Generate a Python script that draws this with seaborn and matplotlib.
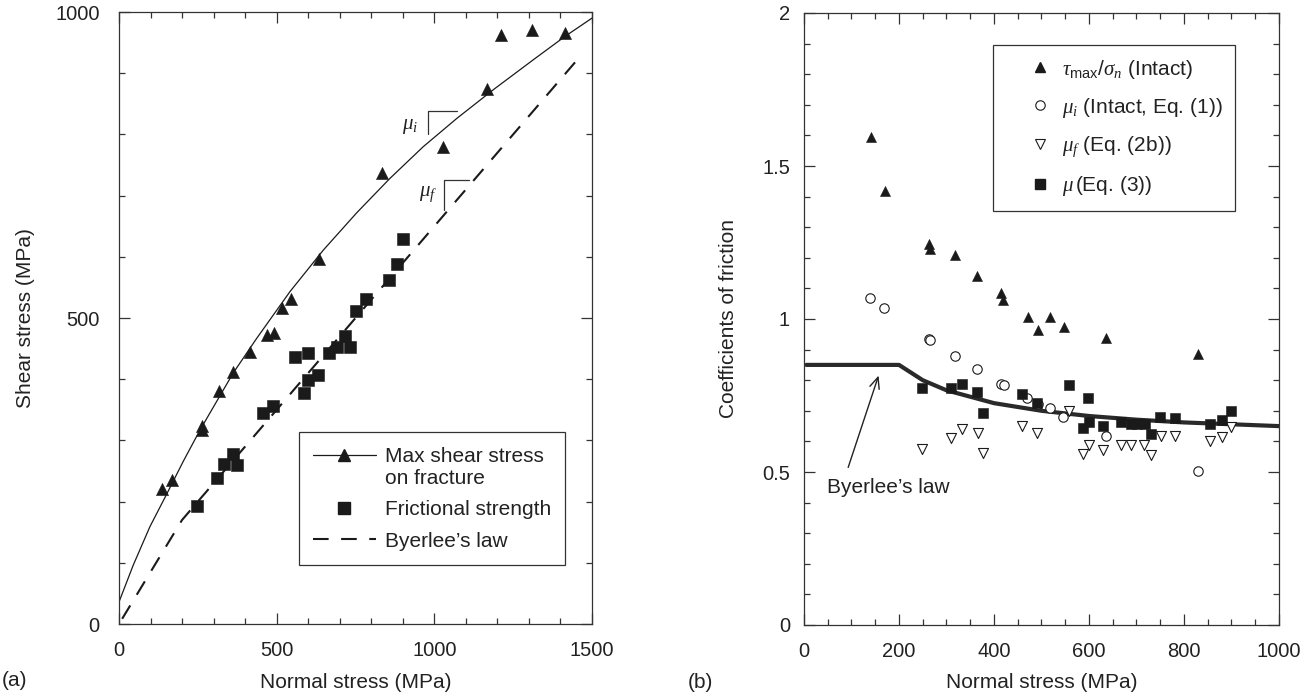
import numpy as np
import pandas as pd
import matplotlib
matplotlib.use("Agg")
import matplotlib.pyplot as plt
import seaborn as sns
from matplotlib.ticker import MultipleLocator, FuncFormatter
from matplotlib.legend_handler import HandlerLine2D
from matplotlib.lines import Line2D

# ---------------- data (a): stresses, MPa ----------------
tau_sn = [135, 169, 262, 264, 317, 363, 415, 470, 492, 516, 545, 634, 833, 1026, 1166, 1210, 1311, 1414]
tau_max = [220, 236, 317, 324, 380, 412, 445, 472, 475, 517, 531, 596, 737, 779, 875, 962, 971, 965]

fit_sn = [0, 45, 98, 151, 204, 257, 362, 437, 542, 648, 754, 859, 965, 1071, 1187, 1314, 1414, 1500]
fit_tau = [36, 96, 159, 212, 266, 317, 410, 467, 543, 611, 672, 728, 780, 826, 873, 922, 960, 990]

fric_sn = [248, 310, 334, 363, 375, 458, 489, 558, 588, 598, 600, 632, 667, 692, 717, 732, 752, 783, 857, 883, 900]
fric_tau = [193, 238, 262, 278, 260, 345, 356, 436, 378, 443, 399, 407, 442, 453, 471, 453, 511, 531, 562, 588, 629]

byer_sn = [10, 200, 1460]
byer_tau = [8.5, 170, 926]

# slope brackets (annotation)
brk_i_x = [981, 981, 1073]
brk_i_y = [801, 838, 838]
brk_f_x = [1031, 1031, 1111]
brk_f_y = [676, 725, 725]

# ---------------- data (b): coefficients of friction ----------------
tmax_sn = [141, 170, 264, 265, 318, 365, 414, 420, 471, 493, 517, 547, 636, 829]
tmax_ratio = [1.596, 1.417, 1.246, 1.230, 1.209, 1.139, 1.085, 1.061, 1.006, 0.963, 1.005, 0.974, 0.939, 0.886]

mui_sn = [139, 169, 264, 266, 318, 365, 414, 421, 470, 492, 517, 546, 636, 829]
mui = [1.070, 1.036, 0.936, 0.932, 0.880, 0.836, 0.789, 0.785, 0.741, 0.722, 0.708, 0.681, 0.617, 0.503]

muf_sn = [249, 309, 332, 366, 377, 458, 490, 558, 587, 599, 629, 668, 689, 716, 731, 751, 782, 855, 881, 900]
muf = [0.574, 0.612, 0.640, 0.626, 0.563, 0.651, 0.626, 0.700, 0.560, 0.588, 0.572, 0.588, 0.588, 0.588,
       0.556, 0.618, 0.618, 0.602, 0.616, 0.647]

mu_sn = [249, 309, 332, 365, 377, 458, 491, 558, 588, 598, 600, 630, 668, 688, 702, 718, 731, 749, 782, 855, 881, 900]
mu = [0.773, 0.773, 0.787, 0.760, 0.692, 0.754, 0.725, 0.784, 0.645, 0.742, 0.662, 0.651, 0.664, 0.656,
      0.656, 0.656, 0.623, 0.681, 0.678, 0.658, 0.670, 0.700]

byer_b_sn = [5, 200, 250, 300, 400, 500, 600, 700, 800, 900, 1000]
byer_b_mu = [0.85, 0.85, 0.80, 0.767, 0.725, 0.70, 0.683, 0.671, 0.662, 0.656, 0.65]

# ---------------- style ----------------
sns.set_style("ticks")
INK = "#1a1a1a"
EDGE = "#333333"
plt.rcParams.update({
    "font.family": ["Liberation Sans", "DejaVu Sans"],
    "mathtext.fontset": "custom",
    "mathtext.rm": "Liberation Sans",
    "mathtext.it": "Liberation Serif:italic",
    "mathtext.bf": "Liberation Sans:bold",
    "axes.edgecolor": EDGE,
    "axes.linewidth": 0.9,
    "text.color": "#222222",
    "axes.labelcolor": "#222222",
    "xtick.color": EDGE,
    "ytick.color": EDGE,
})

fig = plt.figure(figsize=(13.16, 6.98), dpi=100)
axL = fig.add_axes([119 / 1316, 1 - 624 / 698, 473 / 1316, 612 / 698])
axR = fig.add_axes([804 / 1316, 1 - 625 / 698, 475 / 1316, 612 / 698])


class ShiftedHandler(HandlerLine2D):
    def __init__(self, dy=0.0, **kw):
        super().__init__(**kw)
        self.dy = dy

    def create_artists(self, legend, orig_handle, xdescent, ydescent, width, height, fontsize, trans):
        arts = super().create_artists(legend, orig_handle, xdescent, ydescent, width, height, fontsize, trans)
        for a in arts:
            a.set_ydata(np.asarray(a.get_ydata(), dtype=float) + self.dy * fontsize)
        return arts


# ---------------- panel (a) ----------------
sns.lineplot(x=fit_sn, y=fit_tau, ax=axL, color=INK, lw=0.9, sort=False, estimator=None)
sns.lineplot(x=byer_sn, y=byer_tau, ax=axL, color=INK, lw=1.5, sort=False, estimator=None)
axL.lines[-1].set_dashes([7.5, 6])
sns.scatterplot(x=tau_sn, y=tau_max, ax=axL, marker="^", s=76, color=INK, edgecolor=INK, linewidth=0.4, zorder=3)
sns.scatterplot(x=fric_sn, y=fric_tau, ax=axL, marker="s", s=72, color=INK, edgecolor=INK, linewidth=0.4, zorder=3)

axL.plot(brk_i_x, brk_i_y, color=EDGE, lw=0.9)
axL.plot(brk_f_x, brk_f_y, color=EDGE, lw=0.9)
axL.text(923, 813, r"$\mu_i$", ha="center", va="center", fontsize=15)
axL.text(981, 703, r"$\mu_f$", ha="center", va="center", fontsize=15)

axL.set_xlim(0, 1500)
axL.set_ylim(0, 1000)
axL.xaxis.set_major_locator(MultipleLocator(500))
axL.xaxis.set_minor_locator(MultipleLocator(100))
axL.yaxis.set_major_locator(MultipleLocator(500))
axL.yaxis.set_minor_locator(MultipleLocator(100))
axL.set_xlabel("Normal stress (MPa)", fontsize=15)
axL.set_ylabel("Shear stress (MPa)", fontsize=15)
axL.xaxis.set_label_coords(0.5, -0.08)
axL.yaxis.set_label_coords(-0.178, 0.5)

h1 = Line2D([], [], color=INK, lw=0.9, marker="^", ms=8.7)
h2 = Line2D([], [], color=INK, lw=0, ls="none", marker="s", ms=8.5)
h3 = Line2D([], [], color=INK, lw=1.5, dashes=[7.5, 6])
legL = axL.legend([h1, h2, h3], ["Max shear stress\non fracture", "Frictional strength", "Byerlee\u2019s law"],
                  loc="upper left", bbox_to_anchor=(0.3795, 0.3137), borderaxespad=0,
                  handlelength=3.0, handletextpad=0.43, labelspacing=0.6, borderpad=0.7,
                  fontsize=15, frameon=True, fancybox=False, edgecolor=EDGE, framealpha=1,
                  handler_map={h1: ShiftedHandler(0.6)})
legL.get_frame().set_linewidth(0.9)
for t in legL.get_texts():
    t.set_linespacing(1.2)

# ---------------- panel (b) ----------------
sns.lineplot(x=byer_b_sn, y=byer_b_mu, ax=axR, color="#2a2a2a", lw=3.0, sort=False, estimator=None)
sns.scatterplot(x=tmax_sn, y=tmax_ratio, ax=axR, marker="^", s=52, color=INK, edgecolor=INK, linewidth=0.4, zorder=3)
sns.scatterplot(x=mui_sn, y=mui, ax=axR, marker="o", s=46, color="white", edgecolor=INK, linewidth=0.8, zorder=3)
sns.scatterplot(x=muf_sn, y=muf, ax=axR, marker="v", s=52, color="white", edgecolor=INK, linewidth=0.8, zorder=3)
sns.scatterplot(x=mu_sn, y=mu, ax=axR, marker="s", s=52, color=INK, edgecolor=INK, linewidth=0.4, zorder=4)

axR.text(49, 0.449, "Byerlee\u2019s law", ha="left", va="center", fontsize=15)
axR.annotate("", xy=(157, 0.815), xytext=(93, 0.515),
             arrowprops=dict(arrowstyle="->,head_length=0.8,head_width=0.35", lw=1.0, color="#222222",
                             shrinkA=0, shrinkB=0))

axR.set_xlim(0, 1000)
axR.set_ylim(0, 2)
axR.xaxis.set_major_locator(MultipleLocator(200))
axR.xaxis.set_minor_locator(MultipleLocator(50))
axR.yaxis.set_major_locator(MultipleLocator(0.5))
axR.yaxis.set_minor_locator(MultipleLocator(0.1))
axR.yaxis.set_major_formatter(FuncFormatter(lambda v, p: f"{v:g}"))
axR.set_xlabel("Normal stress (MPa)", fontsize=15)
axR.set_ylabel("Coefficients of friction", fontsize=15)
axR.xaxis.set_label_coords(0.5, -0.078)
axR.yaxis.set_label_coords(-0.139, 0.5)

r1 = Line2D([], [], ls="none", marker="^", ms=7.2, color=INK)
r2 = Line2D([], [], ls="none", marker="o", ms=6.8, mfc="white", mec=INK, mew=0.8)
r3 = Line2D([], [], ls="none", marker="v", ms=7.2, mfc="white", mec=INK, mew=0.8)
r4 = Line2D([], [], ls="none", marker="s", ms=7.2, color=INK)
legR = axR.legend([r1, r2, r3, r4],
                  [r"$\tau_{\rm max}/\sigma_n$ (Intact)", r"$\mu_i$ (Intact, Eq. (1))",
                   r"$\mu_f$ (Eq. (2b))", r"$\mu\,$(Eq. (3))"],
                  loc="upper left", bbox_to_anchor=(0.398, 0.948), borderaxespad=0,
                  handlelength=3.3, handletextpad=-0.63, labelspacing=0.72, borderpad=0.62,
                  fontsize=15, frameon=True, fancybox=False, edgecolor=EDGE, framealpha=1)
legR.get_frame().set_linewidth(0.9)

# ---------------- ticks ----------------
for ax in (axL, axR):
    ax.tick_params(which="both", direction="in", top=True, right=True, colors=EDGE,
                   labelcolor="#222222", labelsize=14.5)
    ax.tick_params(which="major", length=8, width=0.9)
    ax.tick_params(which="minor", length=4, width=0.9)
    ax.tick_params(axis="x", which="both", pad=12.5)
    for s in ax.spines.values():
        s.set_visible(True)
axL.tick_params(axis="y", which="both", pad=14)
axR.tick_params(axis="y", which="both", pad=10)

fig.text(2 / 1316, 1 - 681 / 698, "(a)", ha="left", va="center", fontsize=15)
fig.text(700 / 1316, 1 - 683 / 698, "(b)", ha="center", va="center", fontsize=15)

fig.savefig("out.png", dpi=100)
